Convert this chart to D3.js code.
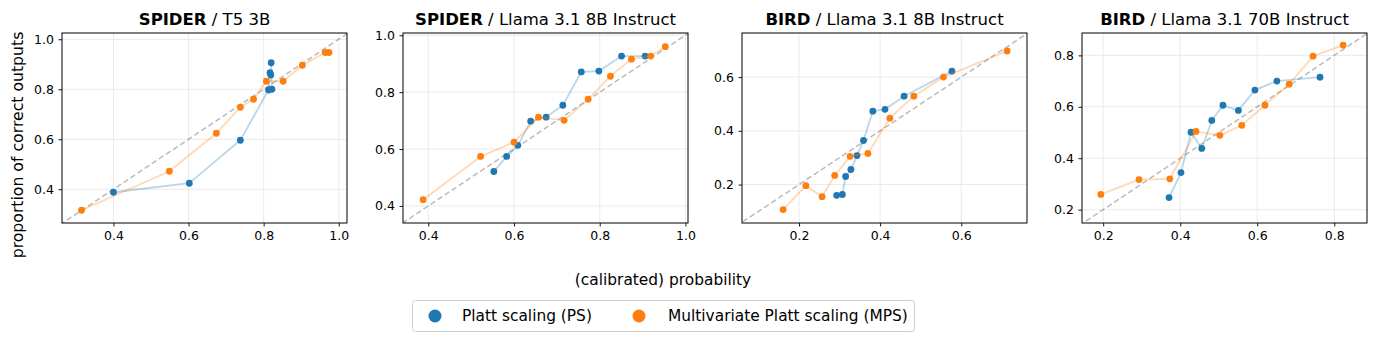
<!DOCTYPE html>
<html><head><meta charset="utf-8">
<script src="https://cdn.jsdelivr.net/npm/d3@7"></script>
<style>
body{margin:0;background:#fff;}
svg{display:block;font-family:"DejaVu Sans",sans-serif;}
</style></head>
<body><svg id="c" width="1377" height="341"></svg>
<script>
// ---- data ----
const titlesBold = ["SPIDER", "SPIDER", "BIRD", "BIRD"];
const titlesRest = [" / T5 3B", " / Llama 3.1 8B Instruct", " / Llama 3.1 8B Instruct", " / Llama 3.1 70B Instruct"];
const seriesNames = ["Platt scaling (PS)", "Multivariate Platt scaling (MPS)"];

const p1PsX = [0.400, 0.602, 0.738, 0.813, 0.817, 0.819, 0.820, 0.822];
const p1PsY = [0.388, 0.424, 0.596, 0.797, 0.866, 0.857, 0.906, 0.800];
const p1MpsX = [0.315, 0.549, 0.674, 0.738, 0.773, 0.807, 0.852, 0.903, 0.964, 0.974];
const p1MpsY = [0.316, 0.472, 0.624, 0.728, 0.760, 0.832, 0.832, 0.896, 0.947, 0.947];

const p2PsX = [0.553, 0.583, 0.609, 0.639, 0.675, 0.714, 0.757, 0.798, 0.851, 0.906];
const p2PsY = [0.521, 0.574, 0.613, 0.698, 0.712, 0.754, 0.871, 0.874, 0.927, 0.927];
const p2MpsX = [0.388, 0.522, 0.600, 0.657, 0.717, 0.773, 0.825, 0.874, 0.919, 0.953];
const p2MpsY = [0.422, 0.574, 0.624, 0.712, 0.701, 0.775, 0.856, 0.916, 0.927, 0.960];

const p3PsX = [0.293, 0.307, 0.315, 0.328, 0.343, 0.359, 0.382, 0.412, 0.459, 0.577];
const p3PsY = [0.160, 0.163, 0.230, 0.256, 0.308, 0.364, 0.473, 0.480, 0.529, 0.622];
const p3MpsX = [0.161, 0.217, 0.257, 0.288, 0.326, 0.370, 0.424, 0.483, 0.556, 0.713];
const p3MpsY = [0.107, 0.196, 0.155, 0.234, 0.305, 0.316, 0.447, 0.529, 0.600, 0.697];

const p4PsX = [0.371, 0.402, 0.428, 0.456, 0.482, 0.511, 0.551, 0.594, 0.651, 0.763];
const p4PsY = [0.247, 0.344, 0.501, 0.438, 0.547, 0.606, 0.586, 0.665, 0.700, 0.715];
const p4MpsX = [0.194, 0.293, 0.373, 0.441, 0.503, 0.560, 0.620, 0.683, 0.745, 0.823];
const p4MpsY = [0.259, 0.317, 0.320, 0.504, 0.489, 0.528, 0.606, 0.688, 0.797, 0.840];

const p1Ticks = [0.4, 0.6, 0.8, 1.0];
const p2Ticks = [0.4, 0.6, 0.8, 1.0];
const p3Ticks = [0.2, 0.4, 0.6];
const p4Ticks = [0.2, 0.4, 0.6, 0.8];

// ---- layout ----
const colors = ["#1f77b4", "#ff7f0e"];
const panelsLeft = [62, 403, 742, 1082];
const panelW = 285, plotTop = 33, plotBottom = 223;
const domainsX = [[0.263, 1.022], [0.341, 1.006], [0.0596, 0.762], [0.145, 0.885]];
const domainsY = [[0.265, 1.025], [0.340, 1.008], [0.057, 0.764], [0.148, 0.887]];

const panels = [
  {ps: [p1PsX, p1PsY], mps: [p1MpsX, p1MpsY], ticks: p1Ticks},
  {ps: [p2PsX, p2PsY], mps: [p2MpsX, p2MpsY], ticks: p2Ticks},
  {ps: [p3PsX, p3PsY], mps: [p3MpsX, p3MpsY], ticks: p3Ticks},
  {ps: [p4PsX, p4PsY], mps: [p4MpsX, p4MpsY], ticks: p4Ticks},
];

const svg = d3.select("#c");
const fmt = d3.format(".1f");

panels.forEach((p, i) => {
  const x = d3.scaleLinear().domain(domainsX[i]).range([panelsLeft[i], panelsLeft[i] + panelW]);
  const y = d3.scaleLinear().domain(domainsY[i]).range([plotBottom, plotTop]);
  const g = svg.append("g");
  const clipId = "clip" + i;
  svg.append("clipPath").attr("id", clipId).append("rect")
    .attr("x", panelsLeft[i]).attr("y", plotTop).attr("width", panelW).attr("height", plotBottom - plotTop);

  // grid
  g.selectAll(".gx").data(p.ticks).join("line").attr("class", "gx")
    .attr("x1", d => x(d)).attr("x2", d => x(d)).attr("y1", plotTop).attr("y2", plotBottom)
    .attr("stroke", "#e6e6e6").attr("stroke-width", 0.8);
  g.selectAll(".gy").data(p.ticks).join("line").attr("class", "gy")
    .attr("y1", d => y(d)).attr("y2", d => y(d)).attr("x1", panelsLeft[i]).attr("x2", panelsLeft[i] + panelW)
    .attr("stroke", "#e6e6e6").attr("stroke-width", 0.8);

  const inner = g.append("g").attr("clip-path", `url(#${clipId})`);
  // diagonal
  const lo = Math.min(domainsX[i][0], domainsY[i][0]) - 0.1, hi = Math.max(domainsX[i][1], domainsY[i][1]) + 0.1;
  inner.append("line").attr("x1", x(lo)).attr("y1", y(lo)).attr("x2", x(hi)).attr("y2", y(hi))
    .attr("stroke", "#000").attr("stroke-opacity", 0.27).attr("stroke-width", 1.5).attr("stroke-dasharray", "5.5,3");

  [p.ps, p.mps].forEach((s, k) => {
    const pts = s[0].map((v, j) => [v, s[1][j]]);
    inner.append("path").datum(pts)
      .attr("d", d3.line().x(d => x(d[0])).y(d => y(d[1])))
      .attr("fill", "none").attr("stroke", colors[k]).attr("stroke-opacity", 0.3).attr("stroke-width", 1.8);
    inner.selectAll(".pt" + k).data(pts).join("circle").attr("class", "pt" + k)
      .attr("cx", d => x(d[0])).attr("cy", d => y(d[1])).attr("r", 3.4).attr("fill", colors[k]);
  });

  // axes
  const ax = g.append("g").attr("transform", `translate(0,${plotBottom})`)
    .call(d3.axisBottom(x).tickValues(p.ticks).tickFormat(fmt).tickSize(3.5).tickPadding(4.5));
  const ay = g.append("g").attr("transform", `translate(${panelsLeft[i]},0)`)
    .call(d3.axisLeft(y).tickValues(p.ticks).tickFormat(fmt).tickSize(3.5).tickPadding(4.5));
  [ax, ay].forEach(a => {
    a.select(".domain").remove();
    a.selectAll("text").attr("font-size", 12.5).attr("fill", "#000").attr("font-family", "DejaVu Sans");
    a.selectAll("line").attr("stroke", "#000").attr("stroke-width", 0.9);
  });
  g.append("rect").attr("x", panelsLeft[i]).attr("y", plotTop).attr("width", panelW).attr("height", plotBottom - plotTop)
    .attr("fill", "none").attr("stroke", "#000").attr("stroke-width", 1);

  // title
  const t = g.append("text").attr("x", panelsLeft[i] + panelW / 2).attr("y", 25)
    .attr("text-anchor", "middle").attr("font-size", 16.5).attr("fill", "#000");
  t.append("tspan").attr("font-weight", "bold").text(titlesBold[i]);
  t.append("tspan").text(titlesRest[i]);
});

// labels
svg.append("text").attr("transform", "translate(23,145) rotate(-90)").attr("text-anchor", "middle")
  .attr("font-size", 15.7).attr("fill", "#000").text("proportion of correct outputs");
svg.append("text").attr("x", 663).attr("y", 285).attr("text-anchor", "middle")
  .attr("font-size", 15.4).attr("fill", "#000").text("(calibrated) probability");

// legend
const lg = svg.append("g");
lg.append("rect").attr("x", 412.5).attr("y", 300.5).attr("width", 502).attr("height", 31).attr("rx", 3)
  .attr("fill", "#fff").attr("stroke", "#d0d0d0").attr("stroke-width", 1);
const legX = [435, 639], legTX = [462, 668];
seriesNames.forEach((n, k) => {
  lg.append("circle").attr("cx", legX[k]).attr("cy", 316).attr("r", 6.5).attr("fill", colors[k]);
  lg.append("text").attr("x", legTX[k]).attr("y", 321).attr("font-size", 15.4).attr("fill", "#000").text(n);
});
</script></body></html>
